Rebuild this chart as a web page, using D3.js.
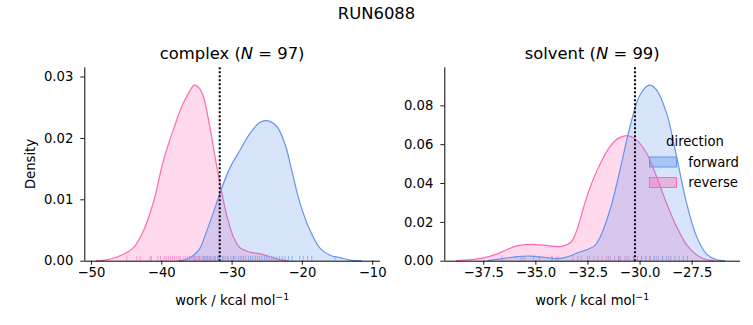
<!DOCTYPE html>
<html>
<head>
<meta charset="utf-8">
<script src="https://cdn.jsdelivr.net/npm/d3@7"></script>
<style>
  body { margin: 0; background: #fff; }
  text { font-family: "DejaVu Sans", sans-serif; fill: #000; }
</style>
</head>
<body>
<svg id="chart" width="753" height="325"></svg>
<script>
// KDE curves: [work, density]
const complexReverse = [[-49.3,0],[-48,0.0001],[-46.3,0.0006],[-44,0.0021],[-42.6,0.0047],[-41.1,0.0096],[-39.7,0.0163],[-38.3,0.0213],[-36.9,0.0256],[-36,0.0275],[-35.3,0.0286],[-34.6,0.0281],[-34.0,0.0267],[-33.1,0.0218],[-32.1,0.0153],[-31.4,0.0112],[-30.7,0.0074],[-29.75,0.0039],[-28.8,0.0021],[-27.4,0.0014],[-25.5,0.0010],[-23.6,0.0003],[-22,0]];
const complexForward = [[-37.5,0],[-36.5,0.0002],[-35.4,0.0009],[-34.5,0.0020],[-33.9,0.0037],[-33.1,0.0062],[-32.3,0.0088],[-31.6,0.0112],[-30.2,0.0152],[-28.8,0.0180],[-27.4,0.0207],[-26.0,0.0225],[-25.0,0.0228],[-23.6,0.0219],[-22.4,0.0190],[-21.5,0.0150],[-20.3,0.0095],[-18.9,0.0051],[-17.4,0.0020],[-16.0,0.0009],[-14.6,0.0005],[-13.2,0.0001],[-11.5,0]];
const solventReverse = [[-38.8,0],[-37.6,0.0012],[-37.0,0.0029],[-36.4,0.0055],[-35.9,0.0076],[-35.2,0.0084],[-34.6,0.0080],[-33.7,0.0074],[-33.3,0.0095],[-33.0,0.0160],[-32.7,0.0270],[-32.4,0.0370],[-32.06,0.0460],[-31.74,0.0530],[-31.42,0.0588],[-31.02,0.0630],[-30.6,0.0644],[-30.14,0.0621],[-29.66,0.0553],[-29.18,0.0432],[-28.7,0.0295],[-28.22,0.0175],[-27.74,0.0081],[-27.26,0.0029],[-26.78,0.0004],[-26.4,0]];
const solventForward = [[-37.3,0],[-36.5,0.0012],[-35.87,0.0021],[-35.22,0.0024],[-34.58,0.0017],[-33.94,0.0011],[-33.46,0.0020],[-32.98,0.0040],[-32.5,0.0058],[-32.18,0.0075],[-31.9,0.0120],[-31.42,0.0261],[-30.94,0.0467],[-30.46,0.0690],[-29.98,0.0853],[-29.53,0.0904],[-29.18,0.0879],[-28.7,0.0759],[-28.22,0.0535],[-27.74,0.0295],[-27.26,0.0124],[-26.78,0.0034],[-26.3,0.0004],[-25.9,0]];

// rug samples
const complexReverseRug = [-44.9,-43.5,-43.0,-41.6,-41.4,-40.5,-40.1,-39.6,-39.3,-39.0,-38.7,-38.4,-38.1,-37.8,-37.5,-37.3,-36.9,-36.6,-36.3,-36.0,-35.8,-35.5,-35.3,-35.0,-34.8,-34.5,-34.2,-34.0,-33.7,-33.4,-33.2,-32.9,-32.6,-32.3,-32.0,-31.8,-31.2,-30.6,-29.8,-28.5];
const complexForwardRug = [-35.2,-34.6,-33.9,-33.5,-33.0,-32.4,-31.9,-31.3,-30.9,-30.5,-30.1,-29.7,-29.4,-29.0,-28.7,-28.3,-28.0,-27.6,-27.3,-27.0,-26.6,-26.3,-26.0,-25.7,-25.3,-25.0,-24.7,-24.3,-24.0,-23.6,-23.2,-22.8,-22.4,-21.9,-21.4,-20.3,-19.8,-19.2,-18.6,-15.3];
const solventReverseRug = [-36.6,-35.7,-35.5,-35.1,-34.2,-34.0,-33.9,-33.2,-32.8,-32.4,-32.2,-32.0,-31.8,-31.6,-31.4,-31.2,-31.0,-30.9,-30.7,-30.5,-30.3,-30.1,-29.9,-29.7,-29.5,-29.2,-28.9,-28.6];
const solventForwardRug = [-35.6,-34.8,-34.2,-32.96,-32.5,-31.5,-31.0,-30.6,-30.3,-30.1,-29.9,-29.7,-29.5,-29.3,-29.1,-28.9,-28.7,-28.5,-28.3,-28.1,-27.9,-27.7];

const complexTicksX = [-50, -40, -30, -20, -10];
const complexTicksY = [0, 0.01, 0.02, 0.03];
const solventTicksX = [-37.5, -35, -32.5, -30, -27.5];
const solventTicksY = [0, 0.02, 0.04, 0.06, 0.08];
const meanLines = [-31.69, -30.22];
const directions = ["forward", "reverse"];
const colors = {forward: "#6495ed", reverse: "#ff69b4"};

const svg = d3.select("#chart");
const minus = s => s.replace("-", "\u2212");
const FS = "13.2px";

svg.append("text").attr("x", 376.5).attr("y", 19)
  .attr("text-anchor", "middle").style("font-size", "16.4px").text("RUN6088");

function panel(opt) {
  const x = d3.scaleLinear().domain(opt.xDomain).range([opt.left, opt.left + 295.7]);
  const y = d3.scaleLinear().domain(opt.yDomain).range([260.7, 67.3]);
  const g = svg.append("g");

  const area = d3.area().x(d => x(d[0])).y0(y(0)).y1(d => y(d[1])).curve(d3.curveCatmullRom);
  const line = d3.line().x(d => x(d[0])).y(d => y(d[1])).curve(d3.curveCatmullRom);

  // reverse first, forward on top
  [["reverse", opt.reverse, opt.reverseRug], ["forward", opt.forward, opt.forwardRug]].forEach(([k, data, rug]) => {
    g.append("path").attr("d", area(data)).attr("fill", colors[k]).attr("fill-opacity", 0.25);
    g.append("path").attr("d", line(data)).attr("fill", "none").attr("stroke", colors[k]).attr("stroke-width", 1.2);
    g.selectAll(null).data(rug).enter().append("line")
      .attr("x1", d => x(d)).attr("x2", d => x(d))
      .attr("y1", y(0)).attr("y2", y(0) - 4.8)
      .attr("stroke", colors[k]).attr("stroke-width", 1).attr("stroke-opacity", 0.6);
  });

  g.append("line").attr("x1", x(opt.mean)).attr("x2", x(opt.mean))
    .attr("y1", 67.3).attr("y2", 260.7)
    .attr("stroke", "#000").attr("stroke-width", 2).attr("stroke-dasharray", "2,2");

  const xAxis = g.append("g").attr("transform", "translate(0,260.7)")
    .call(d3.axisBottom(x).tickValues(opt.xTicks).tickSize(4).tickPadding(3)
      .tickFormat(d => minus(opt.xFmt(d))));
  const yAxis = g.append("g").attr("transform", `translate(${opt.left},0)`)
    .call(d3.axisLeft(y).tickValues(opt.yTicks).tickSize(4).tickPadding(7)
      .tickFormat(d3.format(".2f")));
  [xAxis, yAxis].forEach(a => {
    a.select(".domain").attr("stroke", "#000").attr("stroke-width", 1);
    a.selectAll(".tick line").attr("stroke", "#000").attr("stroke-width", 0.9);
    a.selectAll(".tick text").style("font-size", FS).style("font-family", "DejaVu Sans").attr("fill", "#000");
  });
  xAxis.select(".domain").attr("d", `M${opt.left},0.5H${opt.left + 295.7}`);
  yAxis.select(".domain").attr("d", "M0.5,67.3V260.7");

  const cx = opt.left + 295.7 / 2;
  const t = g.append("text").attr("x", cx).attr("y", 59).attr("text-anchor", "middle").style("font-size", "16.4px");
  t.append("tspan").text(opt.name + " (");
  t.append("tspan").style("font-style", "italic").text("N");
  t.append("tspan").text(" = " + opt.n + ")");

  const xl = g.append("text").attr("x", cx).attr("y", 305).attr("text-anchor", "middle").style("font-size", FS);
  xl.append("tspan").text("work / kcal mol");
  xl.append("tspan").attr("dy", -5).style("font-size", "9.4px").text("\u22121");
  return g;
}

panel({name: "complex", n: 97, left: 84.3, xDomain: [-50.95, -8.89], yDomain: [0, 0.0315],
  xTicks: complexTicksX, yTicks: complexTicksY, xFmt: d3.format("d"),
  reverse: complexReverse, forward: complexForward,
  reverseRug: complexReverseRug, forwardRug: complexForwardRug, mean: meanLines[0]});

panel({name: "solvent", n: 99, left: 444.3, xDomain: [-39.37, -25.18], yDomain: [0, 0.0996],
  xTicks: solventTicksX, yTicks: solventTicksY, xFmt: d3.format(".1f"),
  reverse: solventReverse, forward: solventForward,
  reverseRug: solventReverseRug, forwardRug: solventForwardRug, mean: meanLines[1]});

svg.append("text").attr("transform", "translate(35,164) rotate(-90)")
  .attr("text-anchor", "middle").style("font-size", FS).text("Density");

// legend
const leg = svg.append("g");
leg.append("text").attr("x", 695).attr("y", 146).attr("text-anchor", "middle")
  .style("font-size", FS).text("direction");
directions.forEach((k, i) => {
  const yy = 157 + i * 20.5;
  leg.append("rect").attr("x", 649.5).attr("y", yy).attr("width", 27).attr("height", 10)
    .attr("fill", colors[k]).attr("fill-opacity", 0.4).attr("stroke", colors[k]).attr("stroke-width", 1);
  leg.append("text").attr("x", 688.3).attr("y", yy + 9.8).style("font-size", FS).text(k);
});
</script>
</body>
</html>
